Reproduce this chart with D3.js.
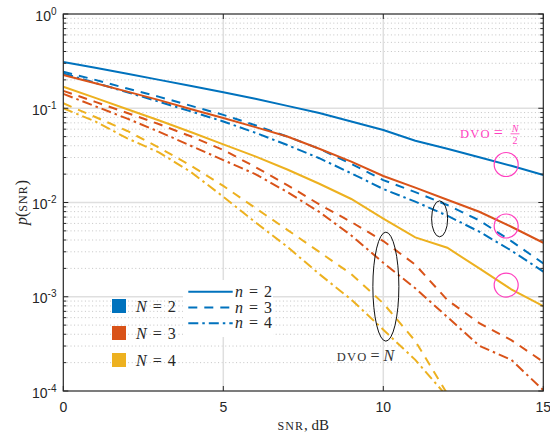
<!DOCTYPE html>
<html>
<head>
<meta charset="utf-8">
<script src="https://cdn.jsdelivr.net/npm/d3@7"></script>
<style>
  body { margin: 0; background: #fff; }
  svg { display: block; }
</style>
</head>
<body>
<svg id="chart" width="550" height="437"></svg>
<script>
// SNR in dB
const snr = [0, 1, 2, 3, 4, 5, 6, 7, 8, 9, 10, 11, 12, 13, 14, 15];

// p(SNR) for N = 2
const pN2n2 = [0.310, 0.269, 0.232, 0.200, 0.172, 0.148, 0.126, 0.106, 0.0891, 0.0724, 0.0587, 0.0452, 0.0372, 0.0302, 0.0245, 0.0196];
const pN2n3 = [0.244, 0.200, 0.162, 0.132, 0.106, 0.0851, 0.0661, 0.0501, 0.0372, 0.0257, 0.0173, 0.0129, 0.00940, 0.00646, 0.00389, 0.00226];
const pN2n4 = [0.234, 0.186, 0.148, 0.117, 0.0923, 0.0724, 0.0550, 0.0407, 0.0295, 0.0204, 0.0139, 0.0102, 0.00724, 0.00490, 0.00309, 0.00185];

// p(SNR) for N = 3
const pN3n2 = [0.225, 0.184, 0.150, 0.122, 0.0977, 0.0789, 0.0631, 0.0501, 0.0372, 0.0271, 0.0191, 0.0144, 0.0107, 0.00798, 0.00553, 0.00374];
const pN3n3 = [0.153, 0.117, 0.0891, 0.0676, 0.0501, 0.0361, 0.0238, 0.0153, 0.00955, 0.00621, 0.00390, 0.00219, 0.000925, 0.000525, 0.000347, 0.000204];
const pN3n4 = [0.142, 0.105, 0.0776, 0.0562, 0.0398, 0.0282, 0.0200, 0.0129, 0.00794, 0.00447, 0.00229, 0.00123, 0.000610, 0.000302, 0.000214, 0.000102];

// p(SNR) for N = 4 (n = 3, 4 drop below 1e-4 after 12 dB)
const pN4n2 = [0.169, 0.129, 0.0977, 0.0741, 0.0556, 0.0414, 0.0309, 0.0224, 0.0158, 0.0109, 0.00676, 0.00427, 0.00331, 0.00200, 0.00120, 0.000794];
const pN4n3 = [0.113, 0.0807, 0.0574, 0.0380, 0.0245, 0.0150, 0.00875, 0.00513, 0.00299, 0.00174, 0.000851, 0.000339, 0.0000933];
const pN4n4 = [0.100, 0.0724, 0.0479, 0.0339, 0.0209, 0.0115, 0.00617, 0.00339, 0.00174, 0.000933, 0.000447, 0.000214, 0.0000871];

const nLabels = ["N = 2", "N = 3", "N = 4"];
const styleLabels = ["n = 2", "n = 3", "n = 4"];
const xTicks = [0, 5, 10, 15];

const colors = ["#0072BD", "#D95319", "#EDB120"];
const dashes = [null, "9 7", "10 4 2.5 4"];

const series = [
  { v: pN2n2, c: 0, d: 0 }, { v: pN2n3, c: 0, d: 1 }, { v: pN2n4, c: 0, d: 2 },
  { v: pN3n2, c: 1, d: 0 }, { v: pN3n3, c: 1, d: 1 }, { v: pN3n4, c: 1, d: 2 },
  { v: pN4n2, c: 2, d: 0 }, { v: pN4n3, c: 2, d: 1 }, { v: pN4n4, c: 2, d: 2 }
];

const svg = d3.select("#chart");
const mLeft = 63.3, mRight = 543.3, mTop = 14, mBottom = 391;
const axisColor = "#262626";
const sans = "'Liberation Sans', Arial, sans-serif";
const serif = "'Liberation Serif', 'Times New Roman', serif";
const magenta = "#ff3fbf";

const x = d3.scaleLinear().domain([0, 15]).range([mLeft, mRight]);
const y = d3.scaleLog().domain([1e-4, 1]).range([mBottom, mTop]);

svg.append("rect").attr("width", 550).attr("height", 437).attr("fill", "#fff");

svg.append("defs").append("clipPath").attr("id", "plot")
  .append("rect").attr("x", mLeft).attr("y", mTop)
  .attr("width", mRight - mLeft).attr("height", mBottom - mTop);

// grid
const allY = y.ticks();
const majorY = allY.filter(d => Math.abs(Math.log10(d) - Math.round(Math.log10(d))) < 1e-9);
const minorY = allY.filter(d => !majorY.includes(d));

const grid = svg.append("g");
grid.selectAll(".minor").data(minorY).enter().append("line")
  .attr("x1", mLeft).attr("x2", mRight)
  .attr("y1", d => y(d)).attr("y2", d => y(d))
  .attr("stroke", "#c4c4c4").attr("stroke-width", 1)
  .attr("stroke-dasharray", "1 2.6");
grid.selectAll(".majorY").data(majorY.filter(d => d > 1e-4 && d < 1)).enter().append("line")
  .attr("x1", mLeft).attr("x2", mRight)
  .attr("y1", d => y(d)).attr("y2", d => y(d))
  .attr("stroke", "#dfdfdf").attr("stroke-width", 1.5);
grid.selectAll(".majorX").data(xTicks.slice(1, -1)).enter().append("line")
  .attr("x1", d => x(d)).attr("x2", d => x(d))
  .attr("y1", mTop).attr("y2", mBottom)
  .attr("stroke", "#dfdfdf").attr("stroke-width", 1.5);

// curves
const line = d3.line().x((d, i) => x(snr[i])).y(d => y(d));
svg.append("g").attr("clip-path", "url(#plot)")
  .selectAll("path").data(series).enter().append("path")
  .attr("d", s => line(s.v))
  .attr("fill", "none")
  .attr("stroke", s => colors[s.c])
  .attr("stroke-width", 2)
  .attr("stroke-dasharray", s => dashes[s.d]);

// legend for N (colour patches)
const legN = svg.append("g").attr("transform", "translate(112,299)");
nLabels.forEach((lab, i) => {
  const g = legN.append("g").attr("transform", `translate(0,${i * 27})`);
  g.append("rect").attr("width", 14).attr("height", 14).attr("fill", colors[i]);
  const t = g.append("text").attr("x", 24).attr("y", 12.5)
    .attr("font-family", serif).attr("font-size", 16).attr("fill", axisColor)
    .attr("word-spacing", 2);
  t.append("tspan").attr("font-style", "italic").text(lab.split(" ")[0]);
  t.append("tspan").text(" " + lab.split(" ").slice(1).join(" "));
});

// legend for n (line styles)
const legS = svg.append("g").attr("transform", "translate(183,280)");
legS.append("rect").attr("width", 90).attr("height", 57).attr("fill", "#fff");
styleLabels.forEach((lab, i) => {
  const yy = 11.7 + i * 15.8;
  legS.append("line").attr("x1", 5.3).attr("x2", 49.7).attr("y1", yy).attr("y2", yy)
    .attr("stroke", colors[0]).attr("stroke-width", 2)
    .attr("stroke-dasharray", dashes[i]);
  const t = legS.append("text").attr("x", 52).attr("y", yy + 5)
    .attr("font-family", serif).attr("font-size", 16).attr("fill", axisColor)
    .attr("word-spacing", 2);
  t.append("tspan").attr("font-style", "italic").text(lab.split(" ")[0]);
  t.append("tspan").text(" " + lab.split(" ").slice(1).join(" "));
});

// annotations
svg.append("ellipse").attr("cx", x(11.76)).attr("cy", y(0.00671))
  .attr("rx", 8).attr("ry", 18).attr("fill", "none").attr("stroke", "#111").attr("stroke-width", 1);
svg.append("ellipse").attr("cx", x(10.08)).attr("cy", y(0.00128))
  .attr("rx", 13).attr("ry", 54.5).attr("fill", "none").attr("stroke", "#111").attr("stroke-width", 1);
[0.0253, 0.00563, 0.00133].forEach(v => {
  svg.append("circle").attr("cx", x(13.84)).attr("cy", y(v)).attr("r", 12)
    .attr("fill", "none").attr("stroke", magenta).attr("stroke-width", 1.2);
});

const dvoN = svg.append("text").attr("x", 336.7).attr("y", 360.7)
  .attr("font-family", serif).attr("fill", "#333");
dvoN.append("tspan").attr("font-size", 12.5).attr("letter-spacing", 1.2).text("DVO");
dvoN.append("tspan").attr("font-size", 16).attr("dx", 3).text("=");
dvoN.append("tspan").attr("font-size", 16).attr("dx", 4).attr("font-style", "italic").text("N");

const dvoH = svg.append("g").attr("fill", magenta).attr("font-family", serif);
const dvoHt = dvoH.append("text").attr("x", 460).attr("y", 138.3);
dvoHt.append("tspan").attr("font-size", 12.5).attr("letter-spacing", 1.2).text("DVO");
dvoHt.append("tspan").attr("font-size", 16).attr("dx", 3).text("=");
dvoH.append("text").attr("x", 515).attr("y", 131.5).attr("text-anchor", "middle")
  .attr("font-size", 10).attr("font-style", "italic").text("N");
dvoH.append("line").attr("x1", 510.5).attr("x2", 519.5).attr("y1", 133.8).attr("y2", 133.8)
  .attr("stroke", magenta).attr("stroke-width", 0.8);
dvoH.append("text").attr("x", 515).attr("y", 143.5).attr("text-anchor", "middle")
  .attr("font-size", 10).text("2");

// axes box and ticks
const ax = svg.append("g").attr("stroke", axisColor).attr("fill", "none");
ax.append("rect").attr("x", mLeft).attr("y", mTop)
  .attr("width", mRight - mLeft).attr("height", mBottom - mTop).attr("stroke-width", 1.2);
ax.selectAll(".ty").data(allY).enter().append("path")
  .attr("d", d => {
    const len = majorY.includes(d) ? 5 : 3;
    return `M${mLeft},${y(d)}h${len}M${mRight},${y(d)}h${-len}`;
  }).attr("stroke-width", 1);
ax.selectAll(".tx").data(xTicks).enter().append("path")
  .attr("d", d => `M${x(d)},${mBottom}v-5M${x(d)},${mTop}v5`).attr("stroke-width", 1);

// tick labels
svg.selectAll(".xl").data(xTicks).enter().append("text")
  .attr("x", d => x(d)).attr("y", 411.7).attr("text-anchor", "middle")
  .attr("font-family", sans).attr("font-size", 14).attr("fill", axisColor)
  .text(d => d);

majorY.forEach(d => {
  const e = Math.round(Math.log10(d));
  const t = svg.append("text").attr("x", 56.5).attr("y", y(d) + 6.5)
    .attr("text-anchor", "end").attr("font-family", sans).attr("fill", axisColor);
  t.append("tspan").attr("font-size", 14).text("10");
  t.append("tspan").attr("font-size", 10).attr("dy", -6).text(e === 0 ? "0" : "-" + (-e));
});

// axis labels
const yl = svg.append("text").attr("transform", `translate(27,${(mTop + mBottom) / 2}) rotate(-90)`)
  .attr("text-anchor", "middle").attr("font-family", serif).attr("fill", axisColor);
yl.append("tspan").attr("font-size", 16).attr("font-style", "italic").text("p");
yl.append("tspan").attr("font-size", 16).text("(");
yl.append("tspan").attr("font-size", 12).attr("letter-spacing", 1).text("SNR");
yl.append("tspan").attr("font-size", 16).text(")");

const xlab = svg.append("text").attr("x", (mLeft + mRight) / 2).attr("y", 430)
  .attr("text-anchor", "middle").attr("font-family", serif).attr("fill", axisColor);
xlab.append("tspan").attr("font-size", 12).attr("letter-spacing", 1).text("SNR");
xlab.append("tspan").attr("font-size", 15).text(", dB");
</script>
</body>
</html>
